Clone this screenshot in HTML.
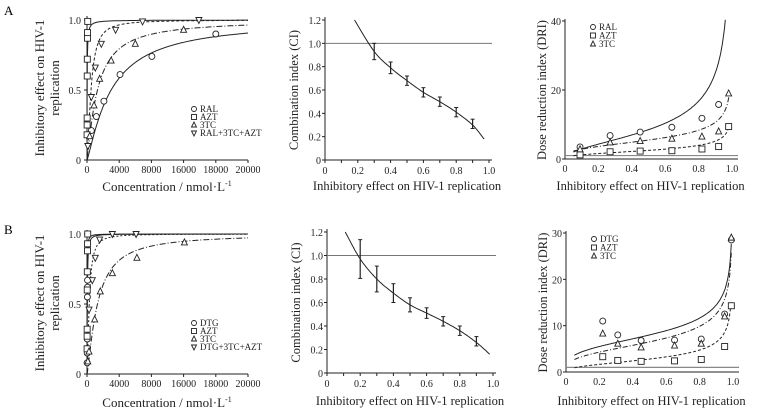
<!DOCTYPE html>
<html><head><meta charset="utf-8"><style>
html,body{margin:0;padding:0;background:#fff;}
svg, svg text{font-family:"Liberation Serif","DejaVu Serif",serif;}
</style></head><body>
<svg id="fig" width="760" height="415" viewBox="0 0 760 415" xmlns="http://www.w3.org/2000/svg" font-family="Liberation Serif, serif">
<text x="4" y="15" font-size="13" font-family="Liberation Serif, serif">A</text>
<text x="4" y="234" font-size="13" font-family="Liberation Serif, serif">B</text>
</svg>
<script>
// ---- data: panel A1 (concentration-response) ----
const a1XTicks = [0, 4000, 8000, 16000, 18000, 20000];
const a1RalX = [540, 1160, 2100, 4100, 8060, 16000];
const a1RalY = [0.21, 0.31, 0.42, 0.61, 0.74, 0.90];
const a1AztX = [10, 15, 20, 30, 40, 60, 70, 90];
const a1AztY = [0.18, 0.25, 0.30, 0.60, 0.72, 0.87, 0.91, 0.99];
const a1TtcX = [330, 870, 1570, 3000, 6000, 12000];
const a1TtcY = [0.17, 0.39, 0.58, 0.71, 0.83, 0.93];
const a1ComboX = [100, 540, 1030, 1780, 3550, 6900, 13900];
const a1ComboY = [0.10, 0.45, 0.66, 0.83, 0.93, 0.99, 1.0];
const a1FitDm = [3000, 20, 1300, 500];
const a1FitM = [1.2, 1.0, 1.2, 1.6];
// ---- panel B1 ----
const b1DtgX = [15, 25, 35, 50, 60, 70];
const b1DtgY = [0.08, 0.15, 0.25, 0.55, 0.62, 0.67];
const b1AztX = [10, 15, 20, 30, 40, 60, 70, 90];
const b1AztY = [0.18, 0.27, 0.32, 0.60, 0.73, 0.88, 0.93, 1.0];
const b1TtcX = [100, 250, 950, 1650, 3150, 6200, 12100];
const b1TtcY = [0.09, 0.16, 0.39, 0.59, 0.72, 0.83, 0.94];
const b1ComboX = [250, 660, 1030, 1570, 3150, 6100];
const b1ComboY = [0.46, 0.67, 0.83, 0.96, 1.0, 1.0];
const b1FitDm = [40, 20, 1300, 280];
const b1FitM = [1.3, 1.3, 1.3, 1.6];
// ---- CI panels ----
const a2Fa = [0.3, 0.4, 0.5, 0.6, 0.7, 0.8, 0.9];
const a2Ci = [0.93, 0.79, 0.68, 0.58, 0.50, 0.41, 0.31];
const a2Err = [0.07, 0.05, 0.04, 0.04, 0.04, 0.04, 0.04];
const a2CurveFa = [0.18, 0.3, 0.4, 0.5, 0.6, 0.7, 0.8, 0.9, 0.97];
const a2CurveCi = [1.2, 0.93, 0.79, 0.68, 0.58, 0.50, 0.41, 0.30, 0.18];
const b2Fa = [0.2, 0.3, 0.4, 0.5, 0.6, 0.7, 0.8, 0.9];
const b2Ci = [0.97, 0.80, 0.68, 0.58, 0.51, 0.44, 0.36, 0.27];
const b2Err = [0.165, 0.11, 0.08, 0.06, 0.045, 0.04, 0.04, 0.04];
const b2CurveFa = [0.11, 0.2, 0.3, 0.4, 0.5, 0.6, 0.7, 0.8, 0.9, 0.98];
const b2CurveCi = [1.2, 0.97, 0.80, 0.68, 0.58, 0.51, 0.44, 0.36, 0.26, 0.16];
const ciTicks = [0, 0.2, 0.4, 0.6, 0.8, 1.0, 1.2];
const faTicks = [0, 0.2, 0.4, 0.6, 0.8, 1.0];
// ---- DRI panels ----
const a3Fa = [0.09, 0.27, 0.45, 0.64, 0.82, 0.92, 0.98];
const a3Ral = [3.5, 6.8, 7.8, 9.2, 11.8, 15.8, null];
const a3Azt = [1.2, 2.1, 2.3, 2.4, 2.9, 3.6, 9.4];
const a3Ttc = [2.8, 4.8, 5.2, 5.9, 6.5, 8.0, 19];
const a3FitA = [8.5, 2.5, 5.5];
const a3FitK = [0.49, 0.33, 0.30];
const a3FitEnd = [0.96, 0.985, 0.985];
const b3Fa = [0.22, 0.31, 0.45, 0.65, 0.81, 0.95, 0.99];
const b3Dtg = [11, 8, 6.8, 6.9, 7.1, 12.5, 28.5];
const b3Azt = [3.3, 2.5, 2.3, 2.4, 2.7, 5.5, 14.3];
const b3Ttc = [8.3, 6.1, 5.3, 5.7, 6.1, 12, 29];
const b3FitA = [8, 2.8, 6.5];
const b3FitK = [0.27, 0.38, 0.3];
const b3FitEnd = [0.99, 0.985, 0.99];

const NS = "http://www.w3.org/2000/svg";
const svg = document.getElementById('fig');
const INK = '#222';
const FONT = '"Liberation Serif", serif';
function el(tag, attrs, parent) {
  const e = document.createElementNS(NS, tag);
  for (const k in attrs) e.setAttribute(k, attrs[k]);
  (parent || svg).appendChild(e);
  return e;
}
function txt(x, y, s, size, anchor, name, rot) {
  const t = el('text', {x: x, y: y, 'font-size': size, 'text-anchor': anchor || 'middle', fill: INK});
  t.style.fontFamily = FONT;
  
  
  if (rot) t.setAttribute('transform', 'rotate(-90 ' + x + ' ' + y + ')');
  t.textContent = s;
  return t;
}
function scale(d0, d1, r0, r1) { return v => r0 + (v - d0) / (d1 - d0) * (r1 - r0); }
function line(x1, y1, x2, y2, name, stroke, w) {
  const l = el('line', {x1: x1, y1: y1, x2: x2, y2: y2, stroke: stroke || INK, 'stroke-width': w || 1});
  
  
  return l;
}
function path(pts, name, dash, stroke, w) {
  const d = pts.map((p, i) => (i ? 'L' : 'M') + p[0].toFixed(1) + ',' + p[1].toFixed(1)).join('');
  const p = el('path', {d: d, fill: 'none', stroke: stroke || INK, 'stroke-width': w || 1});
  if (dash) p.setAttribute('stroke-dasharray', dash);
  
  
  return p;
}
function marker(type, x, y, name, sz) {
  let m;
  const s = sz || 3;
  if (type === 'circle') m = el('circle', {cx: x, cy: y, r: s});
  else if (type === 'square') m = el('rect', {x: x - s, y: y - s, width: 2 * s, height: 2 * s});
  else if (type === 'tri') m = el('polygon', {points: `${x},${y - s - 0.5} ${x - s},${y + s - 0.5} ${x + s},${y + s - 0.5}`});
  else m = el('polygon', {points: `${x},${y + s + 0.5} ${x - s},${y - s + 0.5} ${x + s},${y - s + 0.5}`});
  m.setAttribute('fill', '#fff');
  m.setAttribute('stroke', INK);
  m.setAttribute('stroke-width', '0.9');
  
  
  return m;
}
function catmull(pts) {
  const out = [];
  for (let i = 0; i < pts.length - 1; i++) {
    const p0 = pts[Math.max(0, i - 1)], p1 = pts[i], p2 = pts[i + 1], p3 = pts[Math.min(pts.length - 1, i + 2)];
    for (let t = 0; t < 1; t += 0.1) {
      const t2 = t * t, t3 = t2 * t;
      out.push([0.5 * (2 * p1[0] + (-p0[0] + p2[0]) * t + (2 * p0[0] - 5 * p1[0] + 4 * p2[0] - p3[0]) * t2 + (-p0[0] + 3 * p1[0] - 3 * p2[0] + p3[0]) * t3),
                0.5 * (2 * p1[1] + (-p0[1] + p2[1]) * t + (2 * p0[1] - 5 * p1[1] + 4 * p2[1] - p3[1]) * t2 + (-p0[1] + 3 * p1[1] - 3 * p2[1] + p3[1]) * t3)]);
    }
  }
  out.push(pts[pts.length - 1]);
  return out;
}
function legend(x, y, dy, items, prefix) {
  items.forEach((it, i) => {
    marker(it[0], x, y + i * dy - 3, prefix + '-legend-marker-' + i, 2.5);
    txt(x + 6, y + i * dy, it[1], 9, 'start', prefix + '-legend-entry-' + i);
  });
}

// ---------- Concentration-response panel ----------
function doseResponse(oy, series, fitDm, fitM, fitDash, legendItems, prefix, xTitleY, yLabY) {
  const x0 = 87, x1 = 248, yBot = oy + 140, yTop = oy;
  const sx = scale(0, 20000, x0, x1), sy = scale(0, 1, yBot, yTop);
  line(x0, yBot, x1, yBot, prefix + '-x-axis');
  line(x0, yBot, x0, yTop - 4, prefix + '-y-axis');
  a1XTicks.forEach((t, i) => {
    const x = sx(i * 4000);
    line(x, yBot, x, yBot + 3, prefix + '-x-tick');
    txt(x, yBot + 13, String(t), 10, 'middle', prefix + '-x-tick-label');
  });
  [0, 0.5, 1.0].forEach(v => {
    line(x0 - 3, sy(v), x0, sy(v), prefix + '-y-tick');
    txt(x0 - 6, sy(v) + 4, v === 0 ? '0' : v.toFixed(1), 10, 'end', prefix + '-y-tick-label');
  });
  fitDm.forEach((dm, k) => {
    const pts = [];
    for (let i = 0; i <= 400; i++) {
      const D = 20000 * Math.pow(i / 400, 2.5) + 1;
      const fa = 1 / (1 + Math.pow(dm / D, fitM[k]));
      pts.push([sx(D), sy(fa)]);
    }
    path(pts, prefix + '-fit-curve-' + k, fitDash[k]);
  });
  series.forEach((s, k) => {
    s[1].forEach((xv, i) => marker(s[0], sx(xv), sy(s[2][i]), prefix + '-point-' + s[3]));
  });
  legend(194, oy + 92, 8, legendItems, prefix);
  const t = txt(167, xTitleY, 'Concentration / nmol·L', 13, 'middle', prefix + '-x-title');
  const sup = document.createElementNS(NS, 'tspan');
  sup.setAttribute('font-size', '8');
  sup.setAttribute('dy', '-5');
  sup.textContent = '-1';
  t.appendChild(sup);
  txt(44, yLabY, 'Inhibitory effect on HIV-1', 13, 'middle', prefix + '-y-title', true);
  txt(59, yLabY, 'replication', 13, 'middle', prefix + '-y-title-line2', true);
}
doseResponse(20, [['circle', a1RalX, a1RalY, 'ral'], ['square', a1AztX, a1AztY, 'azt'], ['tri', a1TtcX, a1TtcY, '3tc'], ['tri-down', a1ComboX, a1ComboY, 'combo']],
  a1FitDm, a1FitM, [null, null, '6,2,1,2', '3,2'], [['circle', 'RAL'], ['square', 'AZT'], ['tri', '3TC'], ['tri-down', 'RAL+3TC+AZT']], 'a1', 191, 88);
doseResponse(234, [['circle', b1DtgX, b1DtgY, 'dtg'], ['square', b1AztX, b1AztY, 'azt'], ['tri', b1TtcX, b1TtcY, '3tc'], ['tri-down', b1ComboX, b1ComboY, 'combo']],
  b1FitDm, b1FitM, [null, null, '6,2,1,2', '2,2'], [['circle', 'DTG'], ['square', 'AZT'], ['tri', '3TC'], ['tri-down', 'DTG+3TC+AZT']], 'b1', 407, 303);

// ---------- CI panels ----------
function ciPanel(x0, x1, yTop, yBot, fa, ci, err, cfa, cci, prefix, xTitleY) {
  const sx = scale(0, 1, x0, x1), sy = scale(0, 1.2, yBot, yTop);
  line(x0, yBot, x1 + 3, yBot, prefix + '-x-axis');
  line(x0, yBot, x0, yTop - 3, prefix + '-y-axis');
  line(x0, sy(1), x1 + 3, sy(1), prefix + '-reference-line-ci-1', '#777');
  for (let i = 0; i <= 10; i++) line(sx(i / 10), yBot, sx(i / 10), yBot + 3, prefix + '-x-tick');
  faTicks.forEach(t => txt(sx(t), yBot + 14, t === 0 ? '0' : t.toFixed(1), 10, 'middle', prefix + '-x-tick-label'));
  ciTicks.forEach(t => {
    line(x0 - 3, sy(t), x0, sy(t), prefix + '-y-tick');
    txt(x0 - 4, sy(t) + 4, t === 0 ? '0' : t.toFixed(1), 10, 'end', prefix + '-y-tick-label');
  });
  path(catmull(cfa.map((f, i) => [sx(f), sy(cci[i])])), prefix + '-ci-curve');
  fa.forEach((f, i) => {
    const x = sx(f);
    line(x, sy(ci[i] - err[i]), x, sy(ci[i] + err[i]), prefix + '-error-bar', INK, 1.2);
    line(x - 2, sy(ci[i] - err[i]), x + 2, sy(ci[i] - err[i]), prefix + '-error-cap');
    line(x - 2, sy(ci[i] + err[i]), x + 2, sy(ci[i] + err[i]), prefix + '-error-cap');
  });
  txt((x0 + x1) / 2, xTitleY, 'Inhibitory effect on HIV-1 replication', 12.5, 'middle', prefix + '-x-title');
  txt(x0 - 27, (yTop + yBot) / 2, 'Combination index (CI)', 12.5, 'middle', prefix + '-y-title', true);
}
ciPanel(325, 489, 20, 160, a2Fa, a2Ci, a2Err, a2CurveFa, a2CurveCi, 'a2', 190);
ciPanel(327, 493, 232, 373, b2Fa, b2Ci, b2Err, b2CurveFa, b2CurveCi, 'b2', 405);

// ---------- DRI panels ----------
function driPanel(x0, x1, yTop, yBot, ymax, ticks, fa, series, fitA, fitK, fitEnd, legendItems, prefix, xTitleY) {
  const sx = scale(0, 1, x0, x1), sy = scale(0, ymax, yBot, yTop);
  line(x0, yBot, x1 + 6, yBot, prefix + '-x-axis');
  line(x0, yBot, x0, yTop - 2, prefix + '-y-axis');
  line(x0, sy(1), x1 + 6, sy(1), prefix + '-reference-line-dri-1', '#888', 1.2);
  faTicks.forEach(t => txt(sx(t), yBot + 13, t === 0 ? '0' : t.toFixed(1), 10, 'middle', prefix + '-x-tick-label'));
  ticks.forEach(t => {
    line(x0 - 3, sy(t), x0, sy(t), prefix + '-y-tick');
    txt(x0 - 4, sy(t) + 4, String(t), 10, 'end', prefix + '-y-tick-label');
  });
  const dashes = [null, '3,2', '5,2,1,2'];
  fitA.forEach((a, k) => {
    const pts = [];
    for (let i = 0; i <= 200; i++) {
      const f = 0.05 + (fitEnd[k] - 0.05) * i / 200;
      pts.push([sx(f), sy(a * Math.pow(f / (1 - f), fitK[k]))]);
    }
    path(pts, prefix + '-dri-curve-' + k, dashes[k]);
  });
  series.forEach(s => {
    fa.forEach((f, i) => { if (s[1][i] != null) marker(s[0], sx(f), sy(s[1][i]), prefix + '-point-' + s[2]); });
  });
  legend(x0 + 28, yTop + 9, 8.5, legendItems, prefix);
  txt((x0 + x1) / 2 + 2, xTitleY, 'Inhibitory effect on HIV-1 replication', 12.5, 'middle', prefix + '-x-title');
  txt(x0 - 19, (yTop + yBot) / 2, 'Dose reduction index (DRI)', 12.5, 'middle', prefix + '-y-title', true);
}
driPanel(565, 732, 21, 159, 40, [0, 20, 40], a3Fa, [['circle', a3Ral, 'ral'], ['square', a3Azt, 'azt'], ['tri', a3Ttc, '3tc']],
  a3FitA, a3FitK, a3FitEnd, [['circle', 'RAL'], ['square', 'AZT'], ['tri', '3TC']], 'a3', 190);
driPanel(566, 733, 233, 372, 30, [0, 10, 20, 30], b3Fa, [['circle', b3Dtg, 'dtg'], ['square', b3Azt, 'azt'], ['tri', b3Ttc, '3tc']],
  b3FitA, b3FitK, b3FitEnd, [['circle', 'DTG'], ['square', 'AZT'], ['tri', '3TC']], 'b3', 405);
</script>
</body></html>
